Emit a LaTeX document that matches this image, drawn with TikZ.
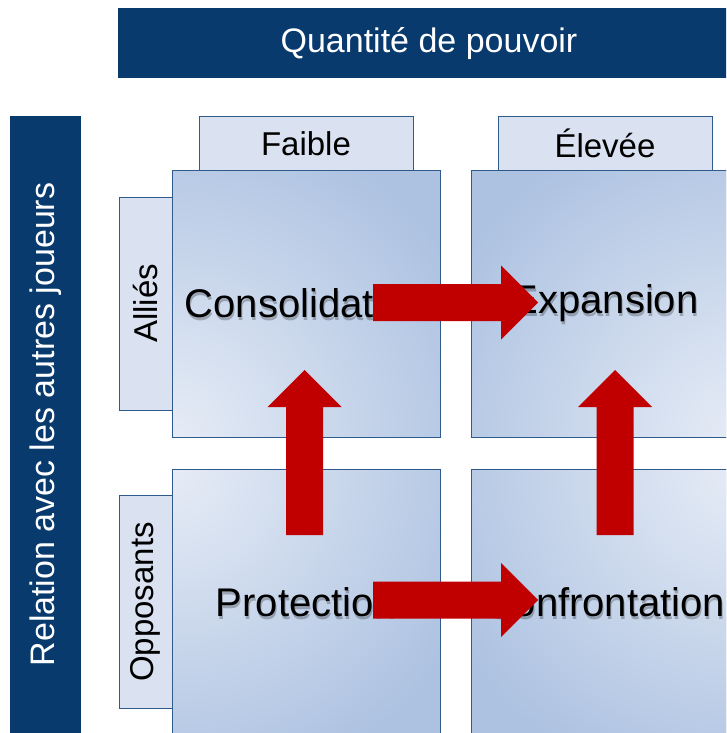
\documentclass[tikz,border=0pt]{standalone}
\usepackage{fontspec}
\setmainfont{Liberation Sans}
\usetikzlibrary{calc}
\usepackage{xcolor}

\definecolor{bannerblue}{HTML}{083A6E}
\definecolor{edgeblue}{HTML}{2F5A8C}
\definecolor{tabfill}{HTML}{DAE1F0}
\definecolor{quaddark}{HTML}{ADC2E1}
\definecolor{quadlight}{HTML}{E6ECF6}
\definecolor{arrowred}{HTML}{C00000}

\tikzset{
  banner/.style={fill=bannerblue, text=white, inner sep=0pt, font=\fontsize{34}{40}\selectfont},
  tabbox/.style={draw=edgeblue, fill=tabfill, inner sep=0pt, font=\fontsize{33}{40}\selectfont},
  quad/.style={draw=edgeblue, fill=quaddark, inner sep=0pt, minimum width=268pt, minimum height=267pt,
    path picture={\shade[inner color=quadlight, outer color=quaddark] (path picture bounding box.#1) circle (330pt);}},
  quadtext/.style={inner sep=0pt, font=\fontsize{40}{48}\selectfont},
}

\begin{document}
\begin{tikzpicture}[x=1pt, y=-1pt]
\path[use as bounding box, clip] (0,0) rectangle (726,733);

\node[banner, minimum width=622pt, minimum height=70.5pt] (power) at (429,43.25) {Quantité de pouvoir};
\node[banner, rotate=90, minimum width=617pt, minimum height=70.7pt] (relation) at (45.65,424.5) {Relation avec les autres joueurs};

% tabs
\foreach \name/\cx/\txt in {low/306/Faible, high/605/Élevée}
  \node[tabbox, minimum width=214pt, minimum height=53.5pt] (col-\name) at (\cx,143.25) {\txt};
\foreach \name/\cy/\txt in {allies/303.5/Alliés, opposants/602/Opposants}
  \node[tabbox, rotate=90, minimum width=213pt, minimum height=53pt] (row-\name) at (145.5,\cy) {\txt};

% quadrants
\foreach \name/\cx/\cy/\corner/\txt in {consolidation/306/303.5/south west/Consolidation,
    expansion/605/303.5/south east/Expansion,
    protection/306/602.5/north west/Protection,
    confrontation/605/602.5/north east/Confrontation} {
  \node[quad=\corner] (q-\name) at (\cx,\cy) {};
  \node[quadtext, text=black, opacity=.25] (s-\name) at ($(q-\name)+(1,3)$) {\txt};
  \node[quadtext] (t-\name) at (q-\name) {\txt};
}

% arrows
\foreach \x/\y/\a in {373/302.5/0, 373/600/0, 304.5/535/90, 615/535/90}
  \fill[arrowred, shift={(\x,\y)}, rotate=\a] (0,-18.5) -- (128,-18.5) -- (128,-37) -- (165,0) -- (128,37) -- (128,18.5) -- (0,18.5) -- cycle;
\end{tikzpicture}
\end{document}
